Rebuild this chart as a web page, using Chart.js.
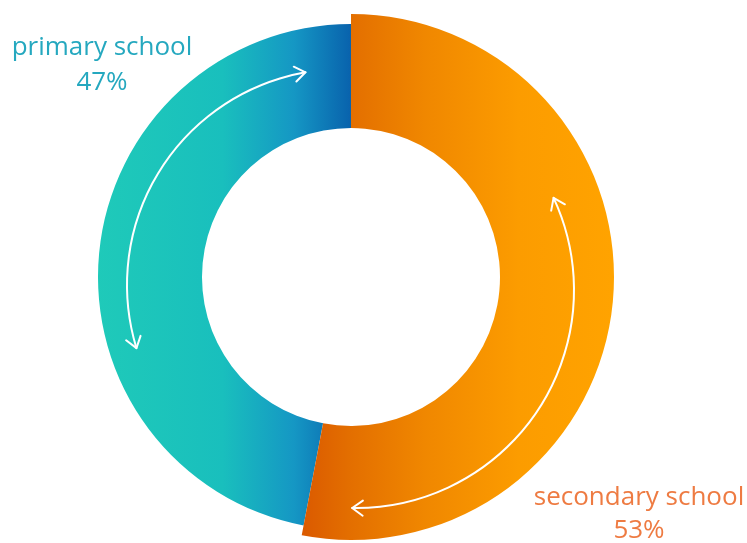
<!DOCTYPE html>
<html>
<head>
<meta charset="utf-8">
<script src="https://cdn.jsdelivr.net/npm/chart.js@4/dist/chart.umd.min.js"></script>
<style>
  html, body { margin: 0; padding: 0; background: #ffffff; }
  #wrap { position: relative; width: 747px; height: 543px; }
</style>
</head>
<body>
<div id="wrap"><canvas id="chart" width="747" height="543"></canvas></div>
<script>
// School level shares (percent)
const categories = ['primary school', 'secondary school'];
const shares = [47, 53];
const labelColors = ['#25a8bf', '#ee7b42'];

// The secondary slice starts at 12 o'clock and runs clockwise,
// so the ring is rotated by the secondary share.
const startAngle = shares[1] / 100 * 360;

function tealFill(ctx) {
  const g = ctx.createLinearGradient(95, 0, 350, 0);
  g.addColorStop(0.00, '#1fcab9');
  g.addColorStop(0.50, '#19bfbd');
  g.addColorStop(0.78, '#1597c4');
  g.addColorStop(1.00, '#0963ad');
  return g;
}
function orangeFill(ctx) {
  const g = ctx.createLinearGradient(298, 0, 613, 0);
  g.addColorStop(0.00, '#da5800');
  g.addColorStop(0.16, '#e36e00');
  g.addColorStop(0.40, '#f08700');
  g.addColorStop(0.70, '#fc9c00');
  g.addColorStop(1.00, '#ffa300');
  return g;
}

// Secondary slice sticks out a little beyond the primary one
const raisedRing = {
  id: 'raisedRing',
  afterDatasetsUpdate(chart) {
    const arc = chart.getDatasetMeta(0).data[1];
    if (arc) arc.outerRadius += 10;
  }
};

// Curved white double-headed arrows running inside each slice
function arrowHead(ctx, x, y, dx, dy) {
  const len = 13, spread = 0.62;
  const back = Math.atan2(-dy, -dx);
  ctx.beginPath();
  ctx.moveTo(x + Math.cos(back + spread) * len, y + Math.sin(back + spread) * len);
  ctx.lineTo(x, y);
  ctx.lineTo(x + Math.cos(back - spread) * len, y + Math.sin(back - spread) * len);
  ctx.stroke();
}
function curvedArrow(ctx, cx, cy, r, a1, a2) {
  const t1 = a1 * Math.PI / 180, t2 = a2 * Math.PI / 180;
  ctx.beginPath();
  ctx.arc(cx, cy, r, t1, t2, false);
  ctx.stroke();
  arrowHead(ctx, cx + r * Math.cos(t1), cy + r * Math.sin(t1), Math.sin(t1), -Math.cos(t1));
  arrowHead(ctx, cx + r * Math.cos(t2), cy + r * Math.sin(t2), -Math.sin(t2), Math.cos(t2));
}
const ringArrows = {
  id: 'ringArrows',
  afterDatasetsDraw(chart) {
    const arc = chart.getDatasetMeta(0).data[0];
    if (!arc) return;
    const ctx = chart.ctx;
    ctx.save();
    ctx.strokeStyle = '#ffffff';
    ctx.lineWidth = 2;
    ctx.lineCap = 'round';
    ctx.lineJoin = 'round';
    curvedArrow(ctx, arc.x - 8, arc.y + 8, 216, 163, 260);
    curvedArrow(ctx, arc.x + 5, arc.y + 13, 218, -25, 91);
    ctx.restore();
  }
};

// Category name and share written beside each slice
const sliceLabels = {
  id: 'sliceLabels',
  afterDraw(chart) {
    const ctx = chart.ctx;
    const spots = [
      { x: 102, y1: 55, y2: 90 },
      { x: 639, y1: 505, y2: 538 }
    ];
    ctx.save();
    ctx.textAlign = 'center';
    ctx.textBaseline = 'alphabetic';
    ctx.font = '26px "Open Sans", sans-serif';
    categories.forEach((name, i) => {
      ctx.fillStyle = labelColors[i];
      ctx.fillText(name, spots[i].x, spots[i].y1);
      ctx.fillText(shares[i] + '%', spots[i].x, spots[i].y2);
    });
    ctx.restore();
  }
};

new Chart(document.getElementById('chart'), {
  type: 'doughnut',
  data: {
    labels: categories,
    datasets: [{
      data: shares,
      backgroundColor: (c) => c.dataIndex === 0 ? tealFill(c.chart.ctx) : orangeFill(c.chart.ctx),
      borderWidth: 0
    }]
  },
  options: {
    responsive: false,
    animation: false,
    rotation: startAngle,
    cutout: 149,
    layout: { padding: { left: 98, right: 143, top: 24, bottom: 13 } },
    plugins: {
      legend: { display: false },
      tooltip: { enabled: false }
    }
  },
  plugins: [raisedRing, ringArrows, sliceLabels]
});
</script>
</body>
</html>
